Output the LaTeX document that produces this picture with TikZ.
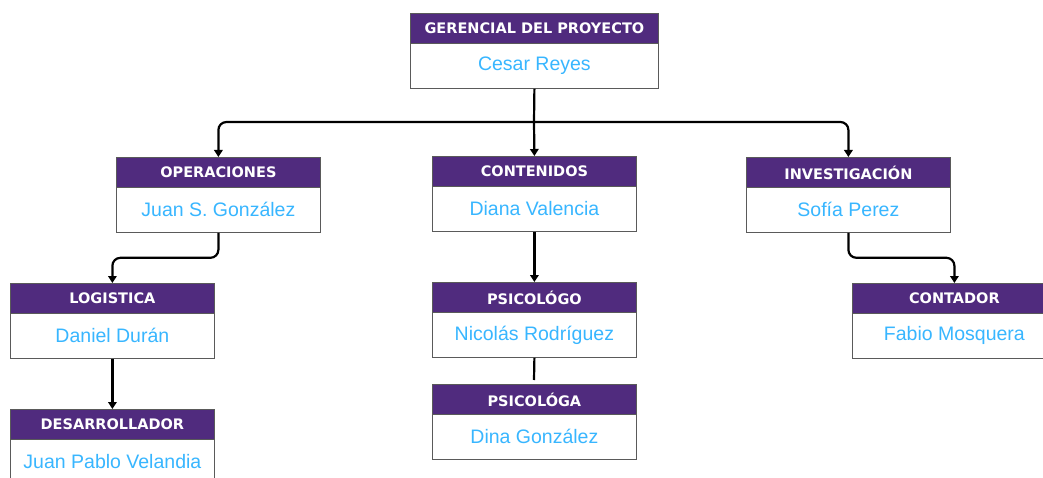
\documentclass[tikz,border=0pt]{standalone}
\usepackage{fontspec}
\setmainfont{Liberation Sans}
\newfontfamily\hdrfam{DejaVu Sans}
\newfontfamily\namefam{Liberation Sans}
\usetikzlibrary{arrows.meta}
\definecolor{hdrpurple}{RGB}{80,43,126}
\definecolor{nameblue}{RGB}{56,182,255}
\definecolor{bordergray}{RGB}{90,90,90}
\tikzset{
  hdr/.style={rectangle, fill=hdrpurple, draw=bordergray, line width=0.8pt,
    minimum width=204pt, minimum height=30pt, anchor=north west, inner sep=0pt,
    text=white, font=\hdrfam\bfseries\fontsize{14.5}{15}\selectfont},
  bdy/.style={rectangle, fill=white, draw=bordergray, line width=0.8pt,
    minimum width=204pt, minimum height=45pt, anchor=north west, inner sep=0pt,
    text=nameblue, font=\namefam\fontsize{19.5}{20}\selectfont},
  conn/.style={line width=2.2pt, draw=black, rounded corners=8pt,
    -{Triangle[length=7pt,width=8.5pt]}},
  plain/.style={line width=2.2pt, draw=black}
}
\begin{document}
\begin{tikzpicture}[x=1pt,y=-1pt]
\useasboundingbox (0,0) rectangle (1043,478);
\clip (0,0) rectangle (1043,478);
% top
\node[hdr, minimum width=248pt] (topH) at (410,13) {GERENCIAL DEL PROYECTO};
\node[bdy, minimum width=248pt] (topB) at (410,43) {Cesar Reyes};
% level 2
\node[hdr] (opH) at (116,157) {OPERACIONES};
\node[bdy] (opB) at (116,187) {Juan S. González};
\node[hdr] (conH) at (432,156) {CONTENIDOS};
\node[bdy] (conB) at (432,186) {Diana Valencia};
\node[hdr] (invH) at (746,157) {INVESTIGACIÓN};
\node[bdy] (invB) at (746,187) {Sofía Perez};
% level 3
\node[hdr] (logH) at (10,283) {LOGISTICA};
\node[bdy] (logB) at (10,313) {Daniel Durán};
\node[hdr] (psoH) at (432,282) {PSICOLÓGO};
\node[bdy] (psoB) at (432,312) {Nicolás Rodríguez};
\node[hdr] (ctH) at (852,283) {CONTADOR};
\node[bdy] (ctB) at (852,313) {Fabio Mosquera};
% level 4
\node[hdr] (devH) at (10,409) {DESARROLLADOR};
\node[bdy] (devB) at (10,439) {Juan Pablo Velandia};
\node[hdr] (psaH) at (432,384) {PSICOLÓGA};
\node[bdy] (psaB) at (432,414) {Dina González};
% connectors
\coordinate (j) at (534,122);
\draw[plain] (topB.south) -- (j);
\draw[conn] (j) -| (opH.north);
\draw[conn] (j) -| (invH.north);
\draw[conn] (j) -- (conH.north);
\draw[conn] (opB.south) -- ++(0,25) -| (logH.north);
\draw[conn] (logB.south) -- (devH.north);
\draw[conn] (conB.south) -- (psoH.north);
\coordinate (psend) at (534,380);
\draw[plain] (psoB.south) -- (psend);
\draw[conn] (invB.south) -- ++(0,25) -| (ctH.north);
\end{tikzpicture}
\end{document}
